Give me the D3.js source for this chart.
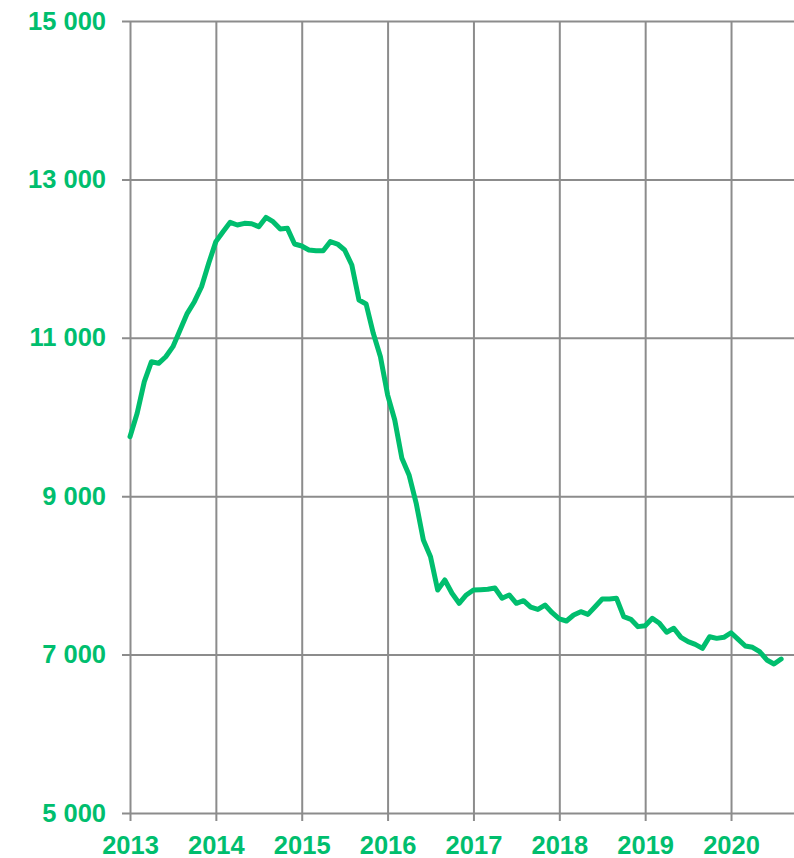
<!DOCTYPE html>
<html>
<head>
<meta charset="utf-8">
<script src="https://cdn.jsdelivr.net/npm/d3@7"></script>
<style>
  html, body { margin: 0; padding: 0; background: #fff; }
  svg { display: block; }
</style>
</head>
<body>
<svg id="chart" width="794" height="858"></svg>
<script>
// Monthly values, Jan 2013 .. Aug 2020
const values2013 = [9751, 10047, 10446, 10698, 10678, 10761, 10888, 11098, 11309, 11456, 11645, 11941];
const values2014 = [12214, 12340, 12458, 12424, 12445, 12440, 12403, 12520, 12466, 12374, 12382, 12184];
const values2015 = [12159, 12109, 12100, 12100, 12214, 12184, 12109, 11919, 11477, 11427, 11057, 10761];
const values2016 = [10280, 9962, 9478, 9268, 8910, 8447, 8236, 7816, 7942, 7774, 7648, 7753];
const values2017 = [7816, 7820, 7825, 7841, 7711, 7753, 7648, 7681, 7600, 7570, 7626, 7529];
const values2018 = [7450, 7424, 7500, 7542, 7508, 7605, 7702, 7702, 7711, 7479, 7446, 7353];
const values2019 = [7365, 7458, 7395, 7282, 7332, 7218, 7163, 7129, 7079, 7226, 7205, 7218];
const values2020 = [7276, 7193, 7109, 7092, 7037, 6932, 6881, 6944];

const yearLabels = ["2013", "2014", "2015", "2016", "2017", "2018", "2019", "2020"];
const yTicks = [5000, 7000, 9000, 11000, 13000, 15000];

const series = [].concat(values2013, values2014, values2015, values2016,
                         values2017, values2018, values2019, values2020);
const data = series.map((v, i) => ({ m: i, v: v }));

const green = "#00be6e";
const grid = "#8c8c8c";
const font = "'Liberation Sans', Arial, sans-serif";

const svg = d3.select("#chart");

const x = d3.scaleLinear().domain([0, 92.8]).range([130, 794]);
const y = d3.scaleLinear().domain([5000, 15000]).range([813, 21]);

// Y axis + horizontal gridlines
const yAxis = d3.axisLeft(y)
  .tickValues(yTicks)
  .tickSize(-(794 - 122))
  .tickPadding(16)
  .tickFormat(d => d3.format(",")(d).replace(",", "\u00a0"));

const gy = svg.append("g").attr("transform", "translate(122,0)").call(yAxis);
gy.select(".domain").remove();
gy.selectAll(".tick line").attr("stroke", grid).attr("stroke-width", 2);
gy.selectAll(".tick text")
  .attr("fill", green)
  .style("font-family", font)
  .style("font-size", "25.5px")
  .style("font-weight", "bold");

// X axis + vertical gridlines
const xAxis = d3.axisBottom(x)
  .tickValues(yearLabels.map((d, i) => i * 12))
  .tickSize(-(821 - 21))
  .tickPadding(14.5)
  .tickFormat((d, i) => yearLabels[i]);

const gx = svg.append("g").attr("transform", "translate(0,821)").call(xAxis);
gx.select(".domain").remove();
gx.selectAll(".tick line").attr("stroke", grid).attr("stroke-width", 2);
gx.selectAll(".tick text")
  .attr("fill", green)
  .style("font-family", font)
  .style("font-size", "25.5px")
  .style("font-weight", "bold");

// Line
const line = d3.line().x(d => x(d.m)).y(d => y(d.v));
svg.append("path")
  .datum(data)
  .attr("fill", "none")
  .attr("stroke", green)
  .attr("stroke-width", 5)
  .attr("stroke-linejoin", "round")
  .attr("stroke-linecap", "round")
  .attr("d", line);
</script>
</body>
</html>
